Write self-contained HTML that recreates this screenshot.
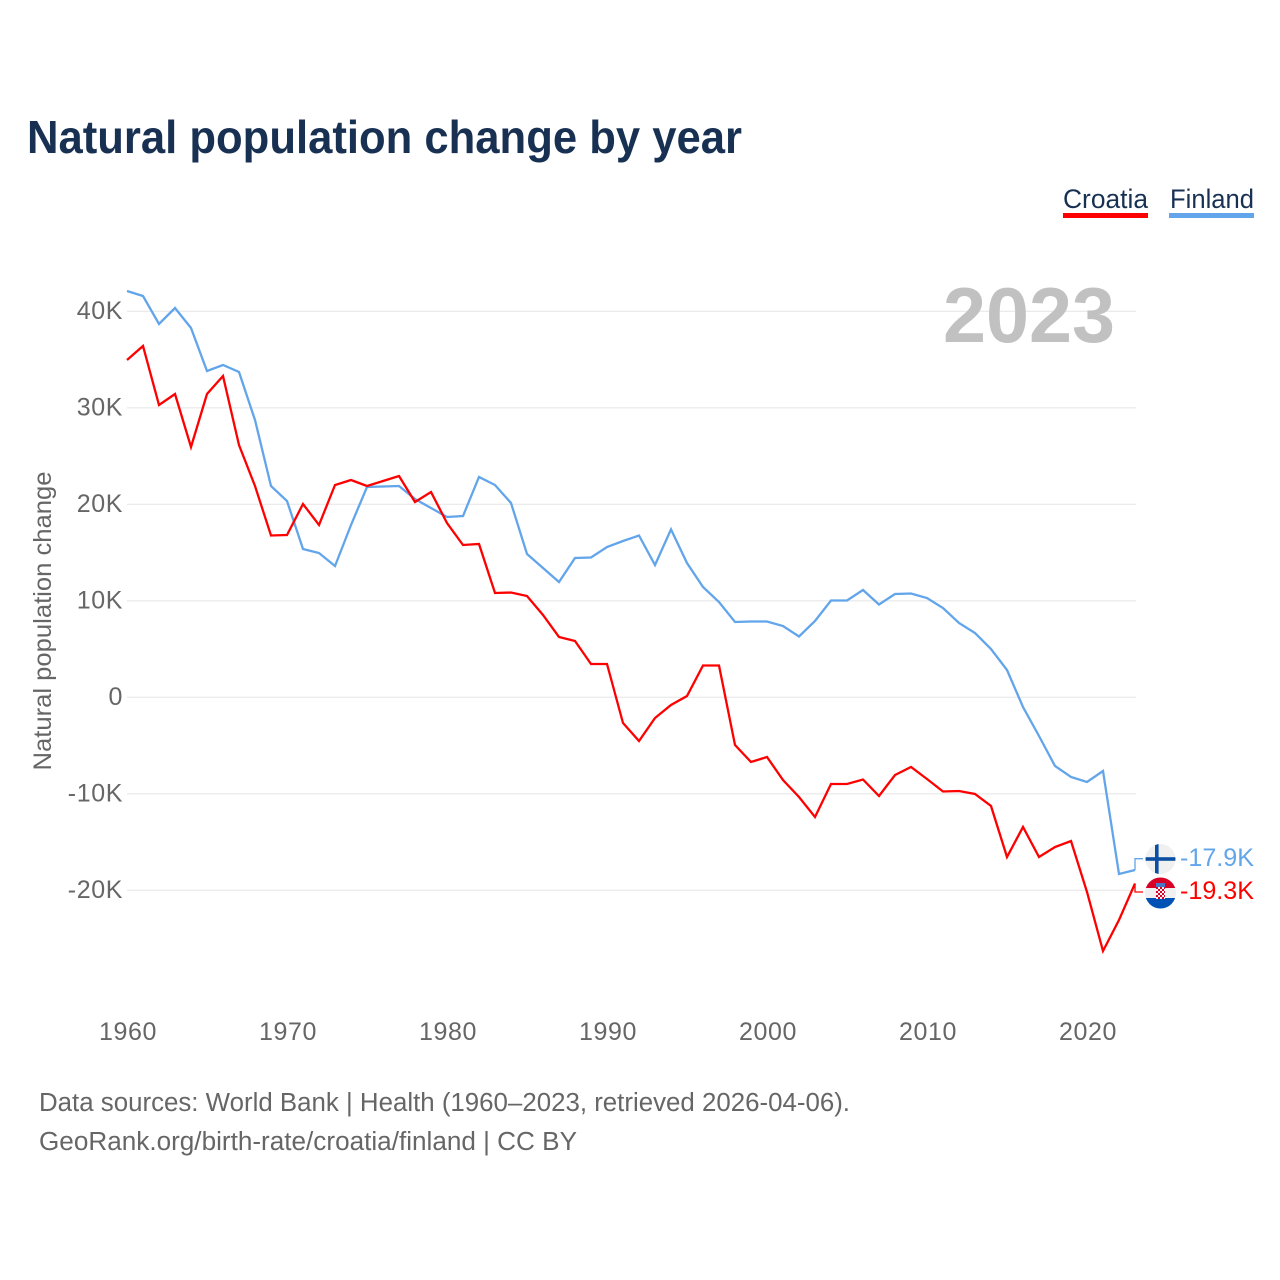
<!DOCTYPE html>
<html lang="en">
<head>
<meta charset="utf-8">
<title>Natural population change by year</title>
<style>
html,body{margin:0;padding:0;background:#fff;width:1280px;height:1280px;overflow:hidden}
svg{display:block}
text{font-family:"Liberation Sans",sans-serif}
.tick{font-size:25px;fill:#666;letter-spacing:.6px}
</style>
</head>
<body>
<svg id="chart" width="1280" height="1280" viewBox="0 0 1280 1280" xmlns="http://www.w3.org/2000/svg">
  <defs>
    <clipPath id="clip-fi"><circle cx="1160.5" cy="859" r="15"/></clipPath>
    <clipPath id="clip-hr"><circle cx="1160.5" cy="893" r="15.5"/></clipPath>
  </defs>
  <text x="27" y="153" font-size="46" font-weight="700" fill="#183153" textLength="715" lengthAdjust="spacingAndGlyphs">Natural population change by year</text>

  <g>
    <text x="1063" y="208" font-size="27" fill="#183153" textLength="85" lengthAdjust="spacingAndGlyphs">Croatia</text>
    <rect x="1063" y="213" width="85" height="5" fill="#ff0000"/>
  </g>
  <g>
    <text x="1170" y="208" font-size="27" fill="#183153" textLength="84" lengthAdjust="spacingAndGlyphs">Finland</text>
    <rect x="1169" y="213" width="85" height="5" fill="#62a5ea"/>
  </g>

  <g id="grid"></g>
  <text id="year-label" x="943" y="342" font-size="78" font-weight="700" fill="#c1c1c1" textLength="172" lengthAdjust="spacingAndGlyphs"></text>
  <g id="y-ticks"></g>
  <g id="x-ticks"></g>
  <text transform="translate(51,621) rotate(-90)" text-anchor="middle" font-size="25" fill="#666" textLength="299" lengthAdjust="spacingAndGlyphs">Natural population change</text>

  <g id="series"></g>

  <g clip-path="url(#clip-fi)">
    <rect x="1145" y="844" width="31" height="30" fill="#f0f0f0"/>
    <rect x="1155" y="844" width="3.6" height="30" fill="#0b4ea2"/>
    <rect x="1145" y="857.2" width="31" height="3.6" fill="#0b4ea2"/>
  </g>
  <g clip-path="url(#clip-hr)">
    <rect x="1145" y="877" width="31" height="11" fill="#d80027"/>
    <rect x="1145" y="888" width="31" height="10" fill="#f0f0f0"/>
    <rect x="1145" y="898" width="31" height="11" fill="#0052b4"/>
    <rect x="1156" y="883" width="9" height="4" fill="#4a78c4"/>
    <rect x="1156" y="887" width="9" height="12" fill="#f4f4f4"/>
    <path d="M1156 887h2v2h-2zM1160 887h2v2h-2zM1164 887h1v2h-1zM1158 889h2v2h-2zM1162 889h2v2h-2zM1156 891h2v2h-2zM1160 891h2v2h-2zM1164 891h1v2h-1zM1158 893h2v2h-2zM1162 893h2v2h-2zM1156 895h2v2h-2zM1160 895h2v2h-2zM1164 895h1v2h-1zM1158 897h2v2h-2zM1162 897h2v2h-2z" fill="#d80027"/>
  </g>
  <g id="end-labels"></g>

  <text x="39" y="1111" font-size="25.5" fill="#666" textLength="811" lengthAdjust="spacingAndGlyphs">Data sources: World Bank | Health (1960–2023, retrieved 2026-04-06).</text>
  <text x="39" y="1150" font-size="25.5" fill="#666" textLength="538" lengthAdjust="spacingAndGlyphs">GeoRank.org/birth-rate/croatia/finland | CC BY</text>
</svg>
<script>
const startYear = 1960;
const xTickYears = [1960,1970,1980,1990,2000,2010,2020];
const yTickValues = [40,30,20,10,0,-10,-20];
const yTickLabels = ["40K","30K","20K","10K","0","-10K","-20K"];
const croatiaValues = [34.95,36.4,30.29,31.43,25.94,31.43,33.3,26.15,21.9,16.77,16.82,20.03,17.85,22.0,22.52,21.9,22.41,22.93,20.24,21.27,18.06,15.78,15.89,10.81,10.86,10.5,8.53,6.25,5.83,3.45,3.45,-2.66,-4.53,-2.15,-0.8,0.13,3.3,3.3,-4.94,-6.7,-6.19,-8.57,-10.33,-12.4,-8.98,-8.98,-8.52,-10.23,-8.05,-7.22,-8.47,-9.76,-9.71,-10.02,-11.26,-16.55,-13.44,-16.55,-15.51,-14.89,-20.18,-26.29,-23.08,-19.3];
const finlandValues = [42.1,41.59,38.68,40.34,38.27,33.81,34.44,33.71,28.74,21.9,20.34,15.37,14.95,13.61,17.85,21.79,21.84,21.9,20.55,19.62,18.68,18.79,22.83,22.0,20.13,14.85,13.4,11.95,14.44,14.49,15.58,16.2,16.77,13.71,17.4,13.92,11.43,9.88,7.8,7.85,7.85,7.39,6.3,7.91,10.03,10.03,11.12,9.62,10.7,10.76,10.29,9.25,7.7,6.66,5.0,2.83,-1.01,-4.01,-7.12,-8.26,-8.78,-7.64,-18.31,-17.9];

const SVGNS = "http://www.w3.org/2000/svg";
const xScale = function (year) { return 127 + (year - startYear) * 16; };
const yScale = function (v) { return 697.3 - v * 9.65; };
const make = function (tag, parent) {
  const el = document.createElementNS(SVGNS, tag);
  document.getElementById(parent).appendChild(el);
  return el;
};
const formatK = function (v) { return v.toFixed(1) + "K"; };

yTickValues.forEach(function (v, i) {
  const line = make("line", "grid");
  
  
  line.setAttribute("x1", 127);
  line.setAttribute("x2", 1136);
  line.setAttribute("y1", yScale(v));
  line.setAttribute("y2", yScale(v));
  line.setAttribute("stroke", "#ebebeb");
  line.setAttribute("stroke-width", "1.3");

  const t = make("text", "y-ticks");
  
  
  t.setAttribute("class", "tick");
  t.setAttribute("x", 123);
  t.setAttribute("y", yScale(v) + 7.5);
  t.setAttribute("text-anchor", "end");
  t.textContent = yTickLabels[i];
});

xTickYears.forEach(function (yr) {
  const t = make("text", "x-ticks");
  
  
  t.setAttribute("class", "tick");
  t.setAttribute("x", xScale(yr) + 1);
  t.setAttribute("y", 1040);
  t.setAttribute("text-anchor", "middle");
  t.textContent = String(yr);
});

const linePoints = function (values) {
  return values.map(function (v, i) {
    return xScale(startYear + i).toFixed(1) + "," + yScale(v).toFixed(1);
  }).join(" ");
};

const finlandLine = make("polyline", "series");


finlandLine.setAttribute("points", linePoints(finlandValues));
finlandLine.setAttribute("fill", "none");
finlandLine.setAttribute("stroke", "#62a5ea");
finlandLine.setAttribute("stroke-width", "2.3");

const croatiaLine = make("polyline", "series");


croatiaLine.setAttribute("points", linePoints(croatiaValues));
croatiaLine.setAttribute("fill", "none");
croatiaLine.setAttribute("stroke", "#ff0000");
croatiaLine.setAttribute("stroke-width", "2.3");

const lastFinland = finlandValues[finlandValues.length - 1];
const lastCroatia = croatiaValues[croatiaValues.length - 1];
const lastX = xScale(startYear + finlandValues.length - 1);

const finlandLeader = make("polyline", "end-labels");


finlandLeader.setAttribute("points", lastX + "," + yScale(lastFinland) + " " + lastX + ",858.7 1143,858.7");
finlandLeader.setAttribute("fill", "none");
finlandLeader.setAttribute("stroke", "#62a5ea");
finlandLeader.setAttribute("stroke-width", "1.3");

const croatiaLeader = make("polyline", "end-labels");


croatiaLeader.setAttribute("points", lastX + "," + yScale(lastCroatia) + " " + lastX + ",892 1143,892");
croatiaLeader.setAttribute("fill", "none");
croatiaLeader.setAttribute("stroke", "#ff0000");
croatiaLeader.setAttribute("stroke-width", "1.3");

const finlandValueLabel = make("text", "end-labels");


finlandValueLabel.setAttribute("x", 1180);
finlandValueLabel.setAttribute("y", 866);
finlandValueLabel.setAttribute("font-size", "25");
finlandValueLabel.setAttribute("textLength", "74");
finlandValueLabel.setAttribute("lengthAdjust", "spacingAndGlyphs");
finlandValueLabel.setAttribute("fill", "#62a5ea");
finlandValueLabel.textContent = formatK(lastFinland);

const croatiaValueLabel = make("text", "end-labels");


croatiaValueLabel.setAttribute("x", 1180);
croatiaValueLabel.setAttribute("y", 899);
croatiaValueLabel.setAttribute("font-size", "25");
croatiaValueLabel.setAttribute("textLength", "74");
croatiaValueLabel.setAttribute("lengthAdjust", "spacingAndGlyphs");
croatiaValueLabel.setAttribute("fill", "#ff0000");
croatiaValueLabel.textContent = formatK(lastCroatia);

document.getElementById("year-label").textContent = String(startYear + finlandValues.length - 1);
</script>
</body>
</html>
